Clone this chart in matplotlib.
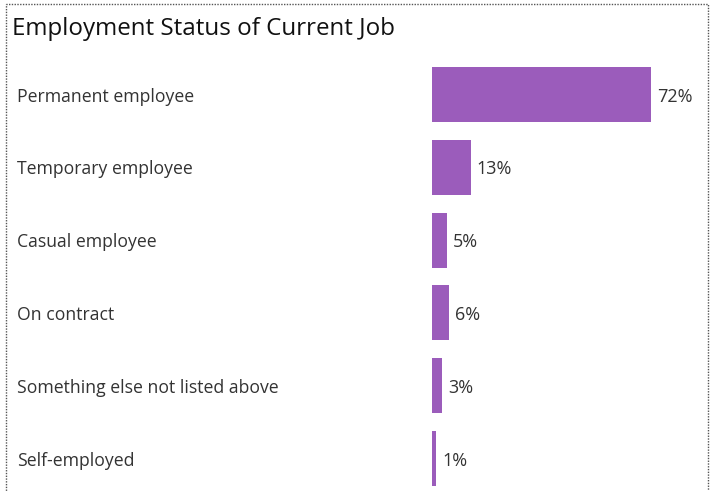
import matplotlib
matplotlib.use("Agg")
import matplotlib.pyplot as plt
from matplotlib.patches import Rectangle
from matplotlib.transforms import blended_transform_factory

categories = ["Permanent employee", "Temporary employee", "Casual employee",
              "On contract", "Something else not listed above", "Self-employed"]
values = [71.9, 12.7, 4.9, 5.6, 3.4, 1.4]

W, H = 713, 491
plt.rcParams['font.family'] = ['Open Sans', 'DejaVu Sans']
fig = plt.figure(figsize=(W / 100, H / 100), dpi=100)
fig.patch.set_facecolor('white')

# dotted border
fig.patches.append(Rectangle((6 / W, -0.05), (708 - 6) / W, 1.05 - 4 / H,
                             transform=fig.transFigure, fill=False,
                             edgecolor='#555555', linestyle=(0, (1, 1)),
                             linewidth=1.0))

fig.text(12 / W, 1 - 29 / H, "Employment Status of Current Job",
         fontsize=17.4, color='#111111', ha='left', va='center')

row = 72.8
top = 94.5 - row / 2
bottom = top + row * len(categories)
x0, x1 = 432, 692
ppp = 219 / 72.0  # pixels per percent
ax = fig.add_axes([x0 / W, 1 - bottom / H, (x1 - x0) / W, (bottom - top) / H])
ax.set_xlim(0, (x1 - x0) / ppp)
ax.set_ylim(len(categories) - 0.5, -0.5)
ax.axis('off')

ypos = list(range(len(categories)))
ax.barh(ypos, values, height=55 / row, color='#9b5cbb', left=0)

dy = -1.5  # points
for i, v in enumerate(values):
    ax.annotate(f"{v:.0f}%", xy=(v, i), xytext=(4.5, dy), textcoords='offset points',
                ha='left', va='center', fontsize=13, color='#333333',
                annotation_clip=False)

tr = blended_transform_factory(fig.transFigure, ax.transData)
for i, c in enumerate(categories):
    ax.annotate(c, xy=(17 / W, i), xycoords=tr, xytext=(0, dy),
                textcoords='offset points', ha='left', va='center',
                fontsize=12.7, color='#333333', annotation_clip=False)

fig.savefig("out.png", dpi=100, facecolor='white')
